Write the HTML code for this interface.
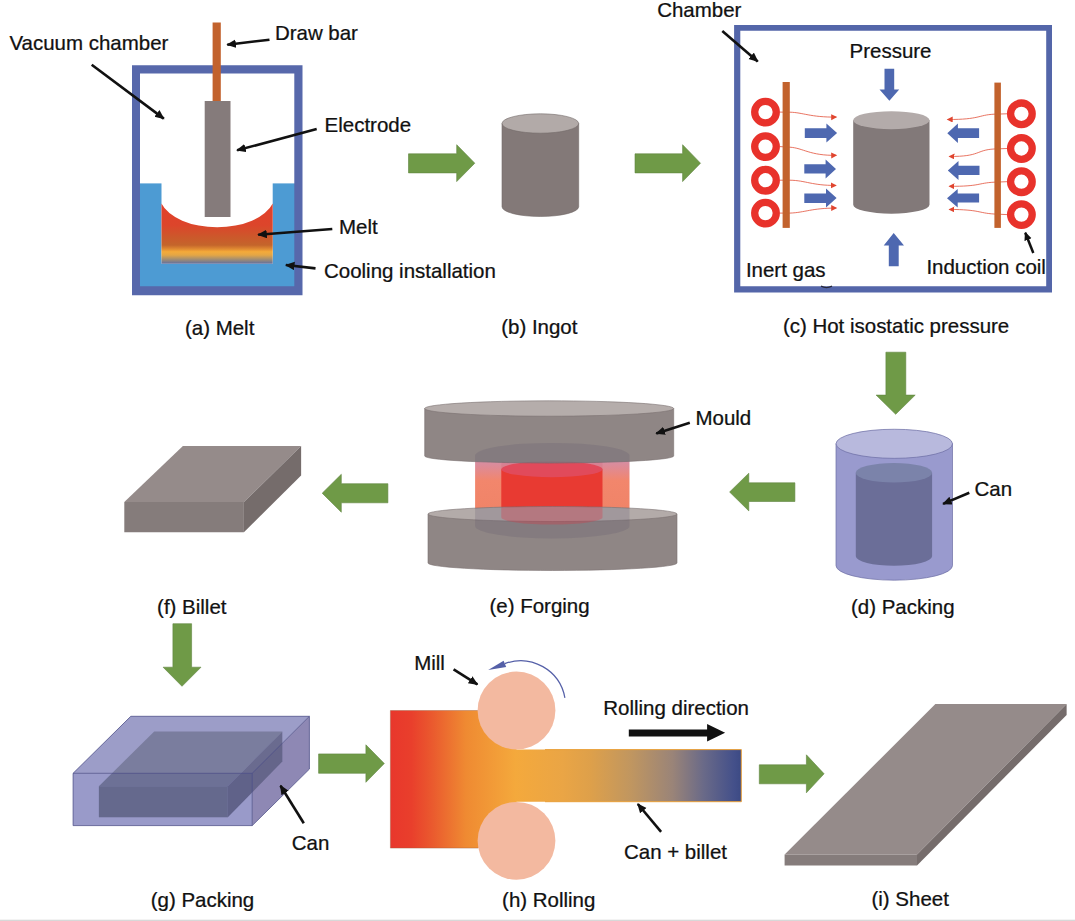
<!DOCTYPE html>
<html lang="en">
<head>
<meta charset="utf-8">
<title>Processing route</title>
<style>
html,body{margin:0;padding:0;background:#fff;}
body{width:1075px;height:921px;overflow:hidden;}
svg{display:block;}
text{font-family:"Liberation Sans",Arial,Helvetica,sans-serif;font-size:19.8px;fill:#111;stroke:#111;stroke-width:0.25px;transform-box:fill-box;transform-origin:0 0;transform:scaleX(1.035);}
.ar{stroke:#111;stroke-width:2.6;fill:none;marker-end:url(#ah);}
.ar2{stroke:#111;stroke-width:2.5;fill:none;marker-end:url(#ah2);}
.g{fill:#6f9a47;stroke:#5f8540;stroke-width:0.6;}
.b{fill:#4e68b0;}
.coil{fill:none;stroke:#e8322b;stroke-width:7.3;}
.w{fill:none;stroke:#e2503a;stroke-width:0.8;marker-end:url(#rh);}
</style>
</head>
<body>
<svg width="1075" height="921" viewBox="0 0 1075 921">
<defs>
<marker id="ah" markerUnits="userSpaceOnUse" markerWidth="14" markerHeight="12" refX="8.6" refY="4.2" orient="auto"><path d="M0,0 L9.6,4.2 L0,8.4 Z" fill="#111"/></marker>
<marker id="ah2" markerUnits="userSpaceOnUse" markerWidth="12" markerHeight="10" refX="7.4" refY="3.8" orient="auto"><path d="M0,0 L8.4,3.8 L0,7.6 Z" fill="#111"/></marker>
<marker id="rh" markerUnits="userSpaceOnUse" markerWidth="8" markerHeight="8" refX="5" refY="3" orient="auto"><path d="M0,0 L6,3 L0,6 Z" fill="#e0452f"/></marker>
<linearGradient id="melt" gradientUnits="userSpaceOnUse" x1="0" y1="203.5" x2="0" y2="263.8">
<stop offset="0" stop-color="#e3402b"/><stop offset="0.36" stop-color="#dc452b"/><stop offset="0.555" stop-color="#cc582b"/><stop offset="0.69" stop-color="#c4652b"/><stop offset="0.755" stop-color="#e08a32"/><stop offset="0.80" stop-color="#f4aa3a"/><stop offset="0.855" stop-color="#e4a645"/><stop offset="0.92" stop-color="#a8906e"/><stop offset="1" stop-color="#5f6fa0"/>
</linearGradient>
<linearGradient id="roll" gradientUnits="userSpaceOnUse" x1="390.4" y1="0" x2="741.3" y2="0">
<stop offset="0" stop-color="#e8372c"/><stop offset="0.06" stop-color="#e93f2c"/><stop offset="0.12" stop-color="#ea5a2e"/><stop offset="0.215" stop-color="#ef8a32"/><stop offset="0.357" stop-color="#f4a93c"/><stop offset="0.49" stop-color="#eaa545"/><stop offset="0.569" stop-color="#dea04a"/><stop offset="0.686" stop-color="#c09660"/><stop offset="0.804" stop-color="#9a8478"/><stop offset="0.892" stop-color="#6a6a88"/><stop offset="0.979" stop-color="#44508a"/><stop offset="1" stop-color="#3c4a84"/>
</linearGradient>
<linearGradient id="canf" gradientUnits="userSpaceOnUse" x1="0" y1="461" x2="0" y2="508">
<stop offset="0" stop-color="#d58ea4"/><stop offset="0.15" stop-color="#e08a92"/><stop offset="0.42" stop-color="#f2866c"/><stop offset="1" stop-color="#f08468"/>
</linearGradient>
</defs>
<rect width="1075" height="921" fill="#fff"/>

<!-- (a) Melt -->
<g id="pa">
<rect x="139" y="183.4" width="157" height="108" fill="#4d9bd3"/>
<rect x="161.5" y="183" width="111.2" height="80.8" fill="#fff"/>
<path d="M161.5,203.5 A57.8,32.7 0 0 0 272.7,203.5 L272.7,263.8 L161.5,263.8 Z" fill="url(#melt)"/>
<path d="M132,65.3 H302.5 V295.3 H132 Z M140,73.5 V286.3 H294.3 V73.5 Z" fill="#5768ab" fill-rule="evenodd"/>
<rect x="212.6" y="22.5" width="8.2" height="79" fill="#c2622d"/>
<rect x="204.7" y="101" width="25.8" height="116" fill="#857b7b"/>
<line class="ar" x1="91.7" y1="64.8" x2="163.8" y2="118.6"/>
<line class="ar" x1="269.5" y1="39.7" x2="227.3" y2="44.7"/>
<line class="ar" x1="316.7" y1="129.1" x2="237.1" y2="150.3"/>
<line class="ar" x1="332.3" y1="229" x2="258.2" y2="234.7"/>
<line class="ar" x1="315.5" y1="268.4" x2="285.9" y2="265"/>
<text x="9.5" y="49.7">Vacuum chamber</text>
<text x="274.9" y="40.2">Draw bar</text>
<text x="324.6" y="132.5">Electrode</text>
<text x="339" y="234">Melt</text>
<text x="324" y="277.9">Cooling installation</text>
<text x="185" y="335">(a) Melt</text>
</g>

<!-- arrows row 1 -->
<path class="g" d="M408.5,153.8 H456.7 V144.7 L474.8,163.2 L456.7,181.6 V172.9 H408.5 Z"/>
<path class="g" d="M635,153.8 H682.6 V144.7 L700.5,163.2 L682.6,181.6 V172.9 H635 Z"/>

<!-- (b) Ingot -->
<g id="pb">
<path d="M502,123.5 V206.7 A38.35,9.8 0 0 0 578.7,206.7 V123.5 Z" fill="#837978" stroke="#726968" stroke-width="0.6"/>
<ellipse cx="540.35" cy="123.5" rx="38.35" ry="9.7" fill="#b2aaa8" stroke="#726968" stroke-width="0.6"/>
<text x="501.2" y="334">(b) Ingot</text>
</g>

<!-- (c) HIP -->
<g id="pc">
<path d="M734.1,25 H1052 V292.5 H734.1 Z M740.3,30.8 V286.2 H1046.2 V30.8 Z" fill="#5466a9" fill-rule="evenodd"/>
<path d="M821,286.2 Q826.5,289 832,286.2" fill="none" stroke="#26283c" stroke-width="1.3"/>
<path class="w" d="M780,112.1 L790,112.2 C803,112.5 810,117.3 836.2,117.1"/>
<path class="w" d="M780,146.6 L790,147.2 C803,148 810,155.8 836.2,155.3"/>
<path class="w" d="M780,180.2 L790,180.2 C806,180.5 812,185.6 835.8,185.4"/>
<path class="w" d="M780,213.1 L790,213.1 C805,212.5 812,208 836.2,208.1"/>
<path class="w" d="M1007,113.8 L994,114.2 C978,115 980,119.6 947.7,119.5"/>
<path class="w" d="M1007,148.5 L994,149 C976,150 980,156.8 949.5,156.4"/>
<path class="w" d="M1007,181.7 L994,182.2 C978,183 980,186.5 949.5,186.3"/>
<path class="w" d="M1007,214.6 L994,214 C978,213 980,209.6 949.5,209.4"/>
<g class="coil">
<circle cx="765.5" cy="112.1" r="10.8"/><circle cx="765.5" cy="146.6" r="10.8"/><circle cx="765.5" cy="180.2" r="10.8"/><circle cx="765.5" cy="213.1" r="10.8"/>
<circle cx="1021.4" cy="113.8" r="10.8"/><circle cx="1021.4" cy="148.5" r="10.8"/><circle cx="1021.4" cy="181.7" r="10.8"/><circle cx="1021.4" cy="214.6" r="10.8"/>
</g>
<rect x="782.6" y="82" width="7.2" height="145.9" fill="#c2622d"/>
<rect x="994.4" y="82.6" width="6.5" height="145.3" fill="#c2622d"/>
<g class="b">
<path d="M804.8,128.2 H826.4 V123.6 L837.1,133.1 L826.4,142.6 V138 H804.8 Z"/>
<path d="M804.3,164.2 H825.6 V159.6 L836,169.1 L825.6,178.6 V173.4 H804.3 Z"/>
<path d="M804.3,193.4 H826 V188.6 L836.6,198.1 L826,207.6 V203 H804.3 Z"/>
<path d="M979.1,128.2 H957.9 V123.6 L947.3,133.2 L957.9,142.9 V138 H979.1 Z"/>
<path d="M979.5,165.7 H958.5 V160.9 L947.8,170.4 L958.5,179.9 V174.9 H979.5 Z"/>
<path d="M979.1,193.4 H957.7 V189.1 L947,198.3 L957.7,207.6 V202.6 H979.1 Z"/>
<path d="M884.5,68.7 H894.2 V89.4 H899.2 L889.4,100.7 L879.5,89.4 H884.5 Z"/>
<path d="M888.8,266.2 H898.7 V245.6 H904 L893.7,233.1 L883.7,245.6 H888.8 Z"/>
</g>
<path d="M853.2,120.2 V204.7 A38.15,9 0 0 0 929.5,204.7 V120.2 Z" fill="#827979"/>
<ellipse cx="891.35" cy="120.2" rx="38.15" ry="9" fill="#b3abaa"/>
<line class="ar" x1="722.3" y1="31.1" x2="757.7" y2="61.4"/>
<line class="ar2" x1="1033.3" y1="253" x2="1025.3" y2="232.8"/>
<text x="657.2" y="16.8">Chamber</text>
<text x="849.6" y="58">Pressure</text>
<text x="745.9" y="277">Inert gas</text>
<text x="926.4" y="274">Induction coil</text>
<text x="782.9" y="333.5">(c) Hot isostatic pressure</text>
</g>

<!-- c->d arrow -->
<path class="g" d="M885.9,352.2 H905.8 V395.1 H915.2 L895.7,414.3 L876.1,395.1 H885.9 Z"/>

<!-- (d) Packing -->
<g id="pd">
<path d="M836,443.7 V565.6 A58.25,14.6 0 0 0 952.5,565.6 V443.7 Z" fill="#999ace" stroke="#6c6da3" stroke-width="0.7"/>
<ellipse cx="894.25" cy="443.8" rx="58.25" ry="14.55" fill="#b8b9dd" stroke="#6c6da3" stroke-width="0.7"/>
<path d="M855.8,472.7 V556.2 A38.15,9.5 0 0 0 932.1,556.2 V472.7 Z" fill="#6b6e98"/>
<ellipse cx="893.95" cy="472.7" rx="38.15" ry="9.8" fill="#7b83aa"/>
<line class="ar" x1="969.3" y1="492.8" x2="943.1" y2="503.9"/>
<text x="974.5" y="495.7">Can</text>
<text x="851" y="614.3">(d) Packing</text>
</g>

<!-- d->e arrow -->
<path class="g" d="M794.9,482.8 H748.8 V473.2 L729.6,492 L748.8,510.9 V501.5 H794.9 Z"/>

<!-- (e) Forging -->
<g id="pe">
<!-- can visible part + billet -->
<rect x="475.1" y="452" width="154.4" height="66" fill="url(#canf)"/>
<path d="M501.3,469.2 V517 H602.5 V469.2 Z" fill="#e83a32"/>
<ellipse cx="551.9" cy="469.2" rx="50.6" ry="8" fill="#e14a5b"/>
<!-- top mould -->
<path d="M424.7,408.5 V456 A124.5,7 0 0 0 673.7,456 V408.5 Z" fill="#8f8685" stroke="#7a7170" stroke-width="0.6"/>
<ellipse cx="549.2" cy="408.5" rx="124.5" ry="7.7" fill="#b5adab" stroke="#7a7170" stroke-width="0.6"/>
<path d="M475.1,455.6 A77.2,12.7 0 0 1 629.5,455.6 V461.4 Q552,464.8 475.1,461.6 Z" fill="#5b4f6a" fill-opacity="0.2"/>
<path d="M501.3,469.2 A50.6,8 0 0 1 602.5,469.2 L602.5,462.3 Q552,464.4 501.3,462.5 Z" fill="#c03050" fill-opacity="0.12"/>
<!-- bottom mould -->
<path d="M428,514 V563 A124.5,7.5 0 0 0 677,563 V514 Z" fill="#8f8685" stroke="#7a7170" stroke-width="0.6"/>
<ellipse cx="552.5" cy="514" rx="124.5" ry="7.5" fill="#b3aba9" stroke="#7a7170" stroke-width="0.6"/>
<path d="M475.1,508.1 Q552,504.9 629.5,508.1 V526 A77.2,12.4 0 0 1 475.1,526 Z" fill="#5b4f6a" fill-opacity="0.2"/>
<path d="M501.3,507.2 Q552,505.8 602.5,507.2 V517.3 A50.6,7.3 0 0 1 501.3,517.3 Z" fill="#e03040" fill-opacity="0.3"/>
<line class="ar" x1="689.8" y1="422.7" x2="656.3" y2="433.4"/>
<text x="695.5" y="425.1">Mould</text>
<text x="489.5" y="613.4">(e) Forging</text>
</g>

<!-- e->f arrow -->
<path class="g" d="M387.9,483.7 H341.3 V474.3 L322.2,493.2 L341.3,512.2 V502.8 H387.9 Z"/>

<!-- (f) Billet -->
<g id="pf">
<path d="M182.9,445.9 H301.1 L243.9,502.1 H124.3 Z" fill="#958b8a"/>
<path d="M124.3,502.1 H243.9 V532.3 H124.3 Z" fill="#857c7b"/>
<path d="M301.1,445.9 V475.4 L243.9,532.3 V502.1 Z" fill="#756c6b"/>
<text x="157.1" y="613.7">(f) Billet</text>
</g>

<!-- f->g arrow -->
<path class="g" d="M172.9,623.7 H191.6 V667.2 H201 L182,686.3 L163.1,667.2 H172.9 Z"/>

<!-- (g) Packing -->
<g id="pg">
<clipPath id="inclip"><path d="M154.2,731.4 H282.3 V761.5 L227.8,817.3 H98.9 V786.2 Z"/></clipPath>
<path d="M130.8,716.3 H309.4 L252.2,773.3 H73.1 Z" fill="#9c9dc8"/>
<path d="M73.1,773.3 H252.2 V825.6 H73.1 Z" fill="#999ac9"/>
<path d="M309.4,716.3 V769.1 L252.2,825.6 V773.3 Z" fill="#8e88b4"/>
<path d="M154.2,731.4 H282.3 L227.8,786.2 H98.9 Z" fill="#7a7d9e"/>
<path d="M98.9,786.2 H227.8 V817.3 H98.9 Z" fill="#707493"/>
<path d="M282.3,731.4 V761.5 L227.8,817.3 V786.2 Z" fill="#6a6b8f"/>
<g clip-path="url(#inclip)">
<path d="M73.1,773.3 H252.2 V825.6 H73.1 Z" fill="#282d6e" fill-opacity="0.15"/>
<path d="M309.4,716.3 V769.1 L252.2,825.6 V773.3 Z" fill="#3a2d5e" fill-opacity="0.10"/>
</g>
<path d="M130.8,716.3 H309.4 L252.2,773.3 H73.1 Z M73.1,773.3 V825.6 H252.2 V773.3 M252.2,825.6 L309.4,769.1 V716.3" fill="none" stroke="#4f5189" stroke-width="0.8" stroke-linejoin="round"/>
<line class="ar" x1="303.8" y1="823.3" x2="280.5" y2="785.7"/>
<text x="291.8" y="850">Can</text>
<text x="150.7" y="907.4">(g) Packing</text>
</g>

<!-- g->h arrow -->
<path class="g" d="M318.6,753.9 H365.9 V744.8 L384.3,763.5 L365.9,782.3 V773.3 H318.6 Z"/>

<!-- (h) Rolling -->
<g id="ph">
<path d="M390.4,710.5 H516.5 V749.6 H741.3 V801.7 H516.5 V848.1 H390.4 Z" fill="url(#roll)"/>
<path d="M478,710.5 H390.4 V848.1 H478" fill="none" stroke="#9a5a3c" stroke-opacity="0.6" stroke-width="0.7"/>
<path d="M545,749.6 H741.3 V801.7 H545" fill="none" stroke="#e9a03a" stroke-width="1"/>
<circle cx="516.5" cy="710.5" r="38.9" fill="#f3b9a0"/>
<circle cx="516.5" cy="840.8" r="38.9" fill="#f3b9a0"/>
<path d="M564.9,697.8 A45,45 0 0 0 504.8,663.6" fill="none" stroke="#5560a8" stroke-width="1.2"/>
<path d="M488.2,670.1 L503.6,660.8 L506.2,667 Z" fill="#5560a8"/>
<path d="M628.8,729.4 H707.1 V724 L725.1,732.8 L707.1,741.6 V736.4 H628.8 Z" fill="#111"/>
<line class="ar" x1="453.6" y1="669.3" x2="477.4" y2="684.4"/>
<line class="ar" x1="661.1" y1="831.9" x2="637.8" y2="804"/>
<text x="414.2" y="669.8">Mill</text>
<text x="603.3" y="714.8">Rolling direction</text>
<text x="624" y="858.6">Can + billet</text>
<text x="502.1" y="907.2">(h) Rolling</text>
</g>

<!-- h->i arrow -->
<path class="g" d="M759.3,764.8 H806.4 V754.8 L824.1,773.8 L806.4,792.8 V783.8 H759.3 Z"/>

<!-- (i) Sheet -->
<g id="pi">
<path d="M935.4,704 H1066.6 L917,854.5 H784.6 Z" fill="#958b8a"/>
<path d="M784.6,854.5 H917 V865.4 H784.6 Z" fill="#857c7b"/>
<path d="M1066.6,704 V714.9 L917,865.4 V854.5 Z" fill="#756c6b"/>
<text x="871.5" y="906.5">(i) Sheet</text>
</g>

<rect x="0" y="919.7" width="1075" height="1.3" fill="#d8d8d8"/>
</svg>
</body>
</html>
